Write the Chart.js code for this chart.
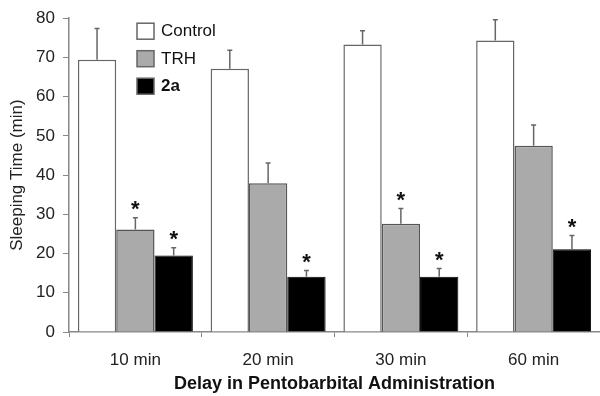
<!DOCTYPE html>
<html>
<head>
<meta charset="utf-8">
<script src="https://cdn.jsdelivr.net/npm/chart.js@4.4.1/dist/chart.umd.min.js"></script>
<style>
  html, body { margin: 0; padding: 0; background: #fff; }
  #wrap { width: 600px; height: 396px; }
</style>
</head>
<body>
<div id="wrap"><canvas id="sleepChart" width="600" height="396"></canvas></div>
<script>
const categories = ["10 min", "20 min", "30 min", "60 min"];

const controlValues = [69.4, 67.1, 73.3, 74.3];
const controlErrors = [8.0, 4.7, 3.5, 5.3];

const trhValues = [26.1, 37.9, 27.6, 47.5];
const trhErrors = [3.0, 5.2, 3.9, 5.3];

const compoundValues = [19.5, 14.1, 14.1, 21.1];
const compoundErrors = [2.0, 1.6, 2.1, 3.5];

// asterisks (p < 0.05 vs control)
const trhSignificant = [true, false, true, false];
const compoundSignificant = [true, true, true, true];

const yTicks = [0, 10, 20, 30, 40, 50, 60, 70, 80];

const FONT = "'Liberation Sans', Arial, sans-serif";

const errorBarPlugin = {
  id: "errorBars",
  afterDatasetsDraw(chart) {
    const ctx = chart.ctx;
    const yScale = chart.scales.y;

    chart.data.datasets.forEach((dataset, i) => {
      const meta = chart.getDatasetMeta(i);

      meta.data.forEach((bar, j) => {
        const value = dataset.data[j];
        const top = yScale.getPixelForValue(value + dataset.errors[j]);

        ctx.save();
        ctx.strokeStyle = "#666";
        ctx.lineWidth = 1.5;
        ctx.beginPath();
        ctx.moveTo(bar.x, bar.y);
        ctx.lineTo(bar.x, top);
        ctx.moveTo(bar.x - 2.5, top);
        ctx.lineTo(bar.x + 2.5, top);
        ctx.stroke();

        if (dataset.significant && dataset.significant[j]) {
          ctx.fillStyle = "#111";
          ctx.font = "bold 22px " + FONT;
          ctx.textAlign = "center";
          ctx.textBaseline = "alphabetic";
          ctx.fillText("*", bar.x, top - 1.5);
        }
        ctx.restore();
      });
    });
  },
};

const legendPlugin = {
  id: "boxLegend",
  afterDraw(chart) {
    const ctx = chart.ctx;
    const area = chart.chartArea;
    const left = area.left + 68;
    let top = area.top + 5;

    chart.data.datasets.forEach((dataset) => {
      ctx.save();
      ctx.fillStyle = dataset.backgroundColor;
      ctx.strokeStyle = "#666";
      ctx.lineWidth = 1.5;
      ctx.fillRect(left, top, 17, 16);
      ctx.strokeRect(left, top, 17, 16);

      ctx.fillStyle = "#111";
      ctx.font = (dataset.boldLegend ? "bold " : "") + "17px " + FONT;
      ctx.textAlign = "left";
      ctx.textBaseline = "middle";
      ctx.fillText(dataset.label, left + 24, top + 8.5);
      ctx.restore();

      top += 27.5;
    });
  },
};

new Chart(document.getElementById("sleepChart"), {
  type: "bar",
  data: {
    labels: categories,
    datasets: [
      {
        label: "Control",
        data: controlValues,
        errors: controlErrors,
        backgroundColor: "#ffffff",
        borderColor: "#666",
        borderWidth: 1.5,
      },
      {
        label: "TRH",
        data: trhValues,
        errors: trhErrors,
        significant: trhSignificant,
        backgroundColor: "#aaaaaa",
        borderColor: "#555",
        borderWidth: 1.5,
      },
      {
        label: "2a",
        data: compoundValues,
        errors: compoundErrors,
        significant: compoundSignificant,
        boldLegend: true,
        backgroundColor: "#000000",
        borderColor: "#000",
        borderWidth: 1,
      },
    ],
  },
  options: {
    responsive: false,
    animation: false,
    layout: {
      padding: { top: 17, right: 0, left: 0, bottom: 0 },
    },
    datasets: {
      bar: {
        categoryPercentage: 0.866,
        barPercentage: 1.0,
      },
    },
    plugins: {
      legend: { display: false },
      tooltip: { enabled: false },
    },
    scales: {
      x: {
        afterFit(scale) {
          scale.height = 64;
        },
        grid: {
          offset: true,
          drawOnChartArea: false,
          drawTicks: true,
          tickLength: 5,
          color: "#888",
        },
        border: { color: "#888", width: 1.5 },
        ticks: {
          color: "#222",
          padding: 13,
          font: { family: FONT, size: 17 },
        },
        title: {
          display: true,
          text: "Delay in Pentobarbital Administration",
          color: "#111",
          font: { family: FONT, size: 18, weight: "bold" },
          padding: { top: 0, bottom: 1 },
        },
      },
      y: {
        min: 0,
        max: 80,
        afterFit(scale) {
          scale.width = 69;
        },
        afterBuildTicks(scale) {
          scale.ticks = yTicks.map((v) => ({ value: v }));
        },
        grid: {
          drawOnChartArea: false,
          drawTicks: true,
          tickLength: 6,
          color: "#888",
        },
        border: { color: "#888", width: 1.5 },
        ticks: {
          color: "#222",
          padding: 8,
          font: { family: FONT, size: 17 },
        },
        title: {
          display: true,
          text: "Sleeping Time (min)",
          color: "#222",
          font: { family: FONT, size: 17 },
          padding: { top: 7, bottom: 0 },
        },
      },
    },
  },
  plugins: [errorBarPlugin, legendPlugin],
});
</script>
</body>
</html>
